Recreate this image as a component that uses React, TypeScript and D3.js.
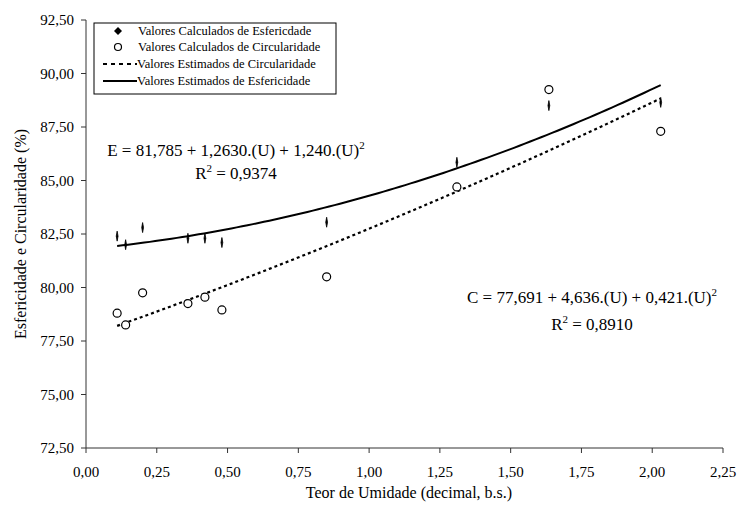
import React from "react";
import * as d3 from "d3";

const moisture = [0.11, 0.14, 0.2, 0.36, 0.42, 0.48, 0.85, 1.31, 1.635, 2.03];
const sphericity = [82.4, 82.0, 82.8, 82.3, 82.3, 82.1, 83.05, 85.85, 88.5, 88.65];
const circularity = [78.8, 78.25, 79.75, 79.25, 79.55, 78.95, 80.5, 84.7, 89.25, 87.3];
const sphCoef = [81.785, 1.263, 1.24];
const circCoef = [77.691, 4.636, 0.421];
const xTicks = [0, 0.25, 0.5, 0.75, 1, 1.25, 1.5, 1.75, 2, 2.25];
const yTicks = [72.5, 75, 77.5, 80, 82.5, 85, 87.5, 90, 92.5];
const legendLabels = [
  "Valores Calculados de Esfericdade",
  "Valores Calculados de Circularidade",
  "Valores Estimados de Circularidade",
  "Valores Estimados de Esfericidade",
];

const W = 738, H = 506;
const L = 86, R = 723, T = 20, B = 448;
const FONT = "'Liberation Serif', 'Times New Roman', serif";
const fmt = (v: number) => v.toFixed(2).replace(".", ",");

export default function App() {
  const x = d3.scaleLinear().domain([0, 2.25]).range([L, R]);
  const y = d3.scaleLinear().domain([72.5, 92.5]).range([B, T]);
  const xs = d3.range(0, 101).map((i) => moisture[0] + (i / 100) * (moisture[moisture.length - 1] - moisture[0]));
  const poly = (c: number[]) => (u: number) => c[0] + c[1] * u + c[2] * u * u;
  const sph = poly(sphCoef), circ = poly(circCoef);
  const line = (f: (u: number) => number) =>
    d3.line<number>().x((u) => x(u)).y((u) => y(f(u))).curve(d3.curveLinear)(xs) || "";
  const diamond = (cx: number, cy: number, hw: number, hh: number) =>
    `M${cx},${cy - hh}L${cx + hw},${cy}L${cx},${cy + hh}L${cx - hw},${cy}Z`;

  const legX = 94, legY = 23, legW = 242, legH = 71;
  const rowY = [31, 47, 64, 81];

  return (
    <svg width={W} height={H} style={{ position: "absolute", left: 0, top: 0, background: "#fff" }} fontFamily={FONT}>
      <rect width={W} height={H} fill="#fff" />
      {/* axes */}
      <line x1={L} x2={L} y1={T} y2={B} stroke="#333" strokeWidth={1} />
      <line x1={L} x2={R} y1={B} y2={B} stroke="#333" strokeWidth={1} />
      {yTicks.map((t) => (
        <g key={"y" + t}>
          <line x1={L - 5} x2={L} y1={y(t)} y2={y(t)} stroke="#333" />
          <text x={74} y={y(t)} dy="0.35em" textAnchor="end" fontSize={15}>{fmt(t)}</text>
        </g>
      ))}
      {xTicks.map((t) => (
        <g key={"x" + t}>
          <line x1={x(t)} x2={x(t)} y1={B} y2={B + 5} stroke="#333" />
          <text x={x(t)} y={477} textAnchor="middle" fontSize={15}>{fmt(t)}</text>
        </g>
      ))}
      <text x={409} y={498} textAnchor="middle" fontSize={16}>Teor de Umidade (decimal, b.s.)</text>
      <text transform={`translate(26,${(T + B) / 2}) rotate(-90)`} textAnchor="middle" fontSize={16}>
        Esfericidade e Circularidade (%)
      </text>

      {/* fitted curves */}
      <path d={line(circ)} fill="none" stroke="#000" strokeWidth={2.2} strokeDasharray="3 3" />
      <path d={line(sph)} fill="none" stroke="#000" strokeWidth={2} />

      {/* points */}
      {moisture.map((u, i) => (
        <path key={"s" + i} d={diamond(x(u), y(sphericity[i]), 0.9, 5)} fill="#000" stroke="#000" strokeWidth={0.8} />
      ))}
      {moisture.map((u, i) => (
        <circle key={"c" + i} cx={x(u)} cy={y(circularity[i])} r={4} fill="#fff" stroke="#000" strokeWidth={1.2} />
      ))}

      {/* equations */}
      <text x={236} y={156} textAnchor="middle" fontSize={17}>
        E = 81,785 + 1,2630.(U) + 1,240.(U)<tspan dy={-7} fontSize={11}>2</tspan>
      </text>
      <text x={236} y={179} textAnchor="middle" fontSize={17}>
        R<tspan dy={-7} fontSize={11}>2</tspan><tspan dy={7}> = 0,9374</tspan>
      </text>
      <text x={592} y={303} textAnchor="middle" fontSize={17}>
        C = 77,691 + 4,636.(U) + 0,421.(U)<tspan dy={-7} fontSize={11}>2</tspan>
      </text>
      <text x={592} y={330} textAnchor="middle" fontSize={17}>
        R<tspan dy={-7} fontSize={11}>2</tspan><tspan dy={7}> = 0,8910</tspan>
      </text>

      {/* legend */}
      <rect x={legX} y={legY} width={legW} height={legH} fill="#fff" stroke="#000" strokeWidth={1} />
      <path d={diamond(118, rowY[0], 4, 4)} fill="#000" />
      <circle cx={118} cy={rowY[1]} r={3.5} fill="#fff" stroke="#000" strokeWidth={1.2} />
      <line x1={103} x2={137} y1={rowY[2]} y2={rowY[2]} stroke="#000" strokeWidth={2.2} strokeDasharray="4 4" />
      <line x1={103} x2={137} y1={rowY[3]} y2={rowY[3]} stroke="#000" strokeWidth={2} />
      {legendLabels.map((lab, i) => (
        <text key={lab} x={i < 2 ? 138 : 137} y={rowY[i]} dy="0.35em" fontSize={12.5}>{lab}</text>
      ))}
    </svg>
  );
}
